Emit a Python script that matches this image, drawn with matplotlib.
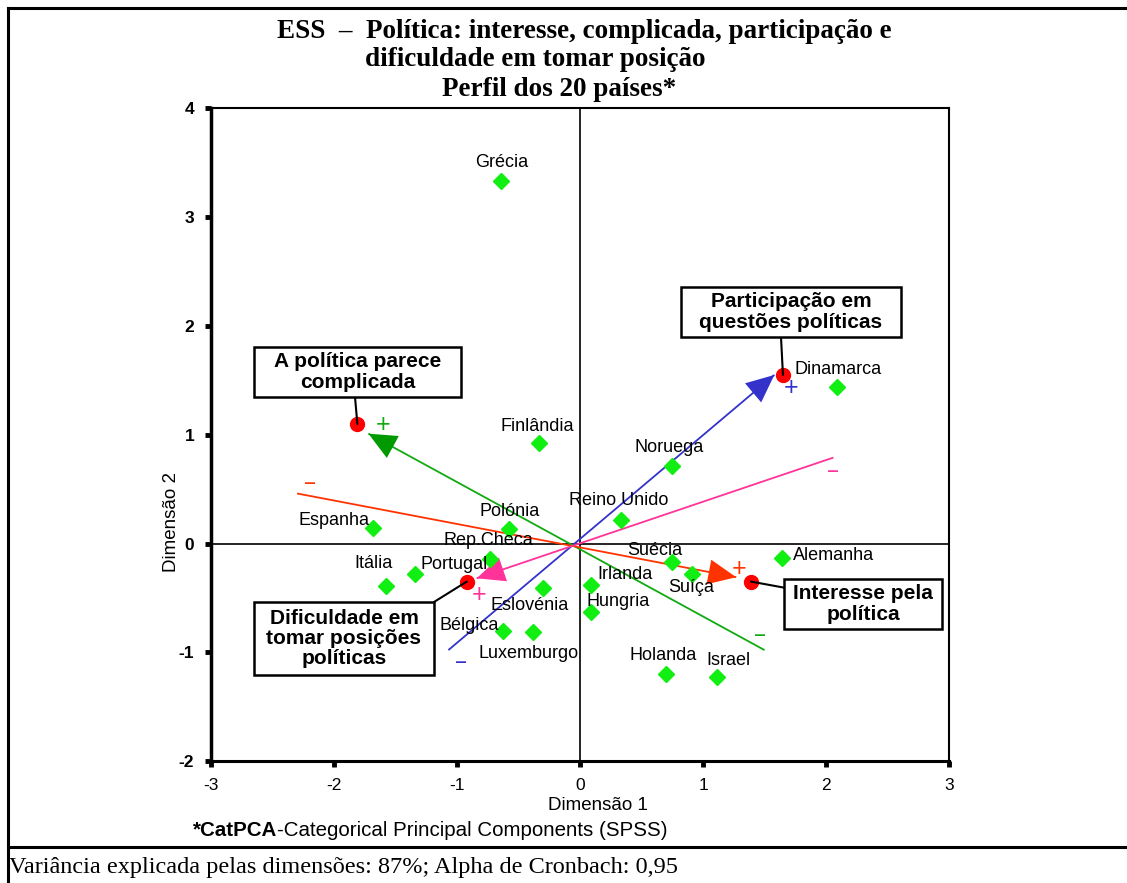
import matplotlib
matplotlib.use("Agg")
import matplotlib.pyplot as plt
from matplotlib.patches import Rectangle, FancyArrowPatch, ConnectionPatch
from matplotlib.lines import Line2D

plt.rcParams["axes.unicode_minus"] = False

W, H = 1127, 883
SANS = "Liberation Sans"
SERIF = "Liberation Serif"

# --- country object scores (Dimensão 1, Dimensão 2) ---
countries = ["Grécia", "Finlândia", "Noruega", "Dinamarca", "Reino Unido",
             "Polónia", "Espanha", "Rep.Checa", "Itália", "Portugal",
             "Eslovénia", "Bélgica", "Luxemburgo", "Irlanda", "Hungria",
             "Suécia", "Suíça", "Alemanha", "Holanda", "Israel"]
dim1 = [-0.64, -0.33, 0.75, 2.09, 0.33, -0.58, -1.68, -0.73, -1.58, -1.34,
        -0.30, -0.63, -0.38, 0.09, 0.09, 0.75, 0.91, 1.64, 0.70, 1.11]
dim2 = [3.33, 0.92, 0.71, 1.44, 0.22, 0.13, 0.14, -0.14, -0.39, -0.28,
        -0.41, -0.80, -0.81, -0.38, -0.63, -0.17, -0.28, -0.13, -1.20, -1.23]

# --- variable vectors: positive end (arrow tip), negative end, category point ---
variables = ["Participação em\nquestões políticas",
             "A política parece\ncomplicada",
             "Interesse pela\npolítica",
             "Dificuldade em\ntomar posições\npolíticas"]
tip_x = [1.58, -1.72, 1.27, -0.84]
tip_y = [1.55, 1.01, -0.31, -0.32]
neg_x = [-1.07, 1.50, -2.30, 2.06]
neg_y = [-0.98, -0.98, 0.46, 0.79]
cat_x = [1.65, -1.81, 1.39, -0.92]
cat_y = [1.55, 1.10, -0.35, -0.35]

# --- styling / layout ---
line_colors = ["#3333cc", "#11aa11", "#ff3300", "#ff3399"]
head_colors = ["#3333cc", "#009900", "#ff3300", "#ff3399"]
plus_off = [(17, -13), (15, 9), (3, 8), (2, -17)]      # pixels from tip
minus_off = [(13, -12), (-4, 15), (13, 10), (0, -14)]   # pixels from negative end
# label boxes in figure pixels: (left, top, right, bottom)
boxes = [(681, 287, 901, 337), (254, 347, 461, 397),
         (784, 579, 942, 629), (254, 602, 434, 675)]
# connector start on each box (figure pixels)
box_anchor = [(781, 337), (355, 397), (786, 588), (434, 602)]

label_off = {
    "Grécia": (0, 19), "Finlândia": (-2, 17), "Noruega": (-3, 19),
    "Dinamarca": (1, 17), "Reino Unido": (-2, 19), "Polónia": (1, 18),
    "Espanha": (-39, 8), "Rep.Checa": (-2, 18), "Itália": (-12, 22),
    "Portugal": (39, 9), "Eslovénia": (-13, -17), "Bélgica": (-33, 5),
    "Luxemburgo": (-5, -22), "Irlanda": (34, 10), "Hungria": (27, 11),
    "Suécia": (-17, 11), "Suíça": (-1, -14), "Alemanha": (52, 2),
    "Holanda": (-3, 19), "Israel": (12, 17),
}


def fp(x, y):
    """figure pixel (from top-left) -> figure fraction"""
    return x / W, 1 - y / H


fig = plt.figure(figsize=(W / 100, H / 100), dpi=100)
fig.patch.set_facecolor("white")

L, R, T, B = 211, 949, 108.5, 761
ax = fig.add_axes([L / W, 1 - B / H, (R - L) / W, (B - T) / H])
ax.set_xlim(-3, 3)
ax.set_ylim(-2, 4)
ax.set_xticks(range(-3, 4))
ax.set_yticks(range(-2, 5))
ax.tick_params(direction="out", length=4, width=3.5, labelsize=12.5,
               pad=8, colors="black")
for lab in ax.get_xticklabels():
    lab.set_fontfamily(SANS)
for lab in ax.get_yticklabels():
    lab.set_fontfamily(SANS)
    lab.set_fontweight("bold")
ax.spines["left"].set_linewidth(2.5)
ax.spines["bottom"].set_linewidth(2.2)
ax.spines["top"].set_linewidth(1.5)
ax.spines["right"].set_linewidth(1.5)

# reference axes through the origin
ax.axhline(0, color="black", lw=1.2, zorder=1)
ax.axvline(0, color="black", lw=1.2, zorder=1)

# variable vectors
for i in range(len(variables)):
    ax.plot([neg_x[i], tip_x[i]], [neg_y[i], tip_y[i]], color=line_colors[i],
            lw=1.3, zorder=2, solid_capstyle="butt")
    dx = tip_x[i] - neg_x[i]
    dy = tip_y[i] - neg_y[i]
    ax.add_patch(FancyArrowPatch((tip_x[i] - 0.02 * dx, tip_y[i] - 0.02 * dy),
                                 (tip_x[i], tip_y[i]),
                                 arrowstyle="-|>,head_length=1.0,head_width=0.45",
                                 mutation_scale=20, color=head_colors[i],
                                 lw=0, zorder=3, shrinkA=0, shrinkB=0))
    ax.annotate("+", (tip_x[i], tip_y[i]), xytext=plus_off[i],
                textcoords="offset pixels", ha="center", va="center",
                color=line_colors[i], fontsize=18, fontfamily=SANS, zorder=4)
    ax.annotate("‒", (neg_x[i], neg_y[i]), xytext=minus_off[i],
                textcoords="offset pixels", ha="center", va="center",
                color=line_colors[i], fontsize=13, fontweight="bold",
                fontfamily=SANS, zorder=4)

# countries
ax.plot(dim1, dim2, linestyle="none", marker="D", ms=8.5, color="#11ee11",
        mec="#11ee11", zorder=5)
for name, x, y in zip(countries, dim1, dim2):
    ax.annotate(name, (x, y), xytext=label_off[name], textcoords="offset pixels",
                ha="center", va="center", fontsize=13, fontfamily=SANS,
                color="black", zorder=6)

# category points
ax.plot(cat_x, cat_y, linestyle="none", marker="o", ms=10, color="#ff0000",
        zorder=7)

# label boxes with connectors
for i, text in enumerate(variables):
    l, t, r, b = boxes[i]
    x0, y0 = fp(l, b)
    x1, y1 = fp(r, t)
    fig.add_artist(Rectangle((x0, y0), x1 - x0, y1 - y0, transform=fig.transFigure,
                             facecolor="white", edgecolor="black", lw=1.8,
                             zorder=8))
    cx, cy = fp((l + r) / 2, (t + b) / 2)
    fig.text(cx, cy, text, ha="center", va="center", fontsize=15,
             fontweight="bold", fontfamily=SANS, linespacing=1.1, zorder=9)
    con = ConnectionPatch(xyA=fp(*box_anchor[i]), coordsA=fig.transFigure,
                          xyB=(cat_x[i], cat_y[i]), coordsB=ax.transData,
                          color="black", lw=1.5, zorder=6)
    fig.add_artist(con)

# titles
tfont = dict(fontfamily=SERIF, fontweight="bold", fontsize=19.5,
             ha="center", va="center")
fig.text(*fp(584, 31), "ESS  –  Política: interesse, complicada, participação e", **tfont)
fig.text(*fp(535, 60), "dificuldade em tomar posição", **tfont)
fig.text(*fp(559, 89), "Perfil dos 20 países*", **tfont)

# axis titles
fig.text(*fp(598, 805), "Dimensão 1", ha="center", va="center",
         fontsize=13.5, fontfamily=SANS)
fig.text(*fp(172, 522), "Dimensão 2", ha="center", va="center", rotation=90,
         fontsize=13.5, fontfamily=SANS)

# footnote: bold acronym followed by regular text
t1 = fig.text(*fp(193, 830), "*CatPCA", ha="left", va="center", fontsize=14.8,
              fontweight="bold", fontfamily=SANS)
fig.canvas.draw()
bb = t1.get_window_extent()
fig.text(bb.x1 / W, fp(0, 830)[1], "-Categorical Principal Components (SPSS)",
         ha="left", va="center", fontsize=14.8, fontfamily=SANS)

# footer
fig.text(*fp(9, 868), "Variância explicada pelas dimensões: 87%; Alpha de Cronbach: 0,95",
         ha="left", va="center", fontsize=17.5, fontfamily=SERIF)

# frame lines
for (xa, ya), (xb, yb) in [((8, 8), (1127, 8)), ((8, 8), (8, 883)),
                           ((8, 847), (1127, 847))]:
    fig.add_artist(Line2D([xa / W, xb / W], [1 - ya / H, 1 - yb / H],
                          transform=fig.transFigure, color="black", lw=2.2))

fig.savefig("out.png", dpi=100)
